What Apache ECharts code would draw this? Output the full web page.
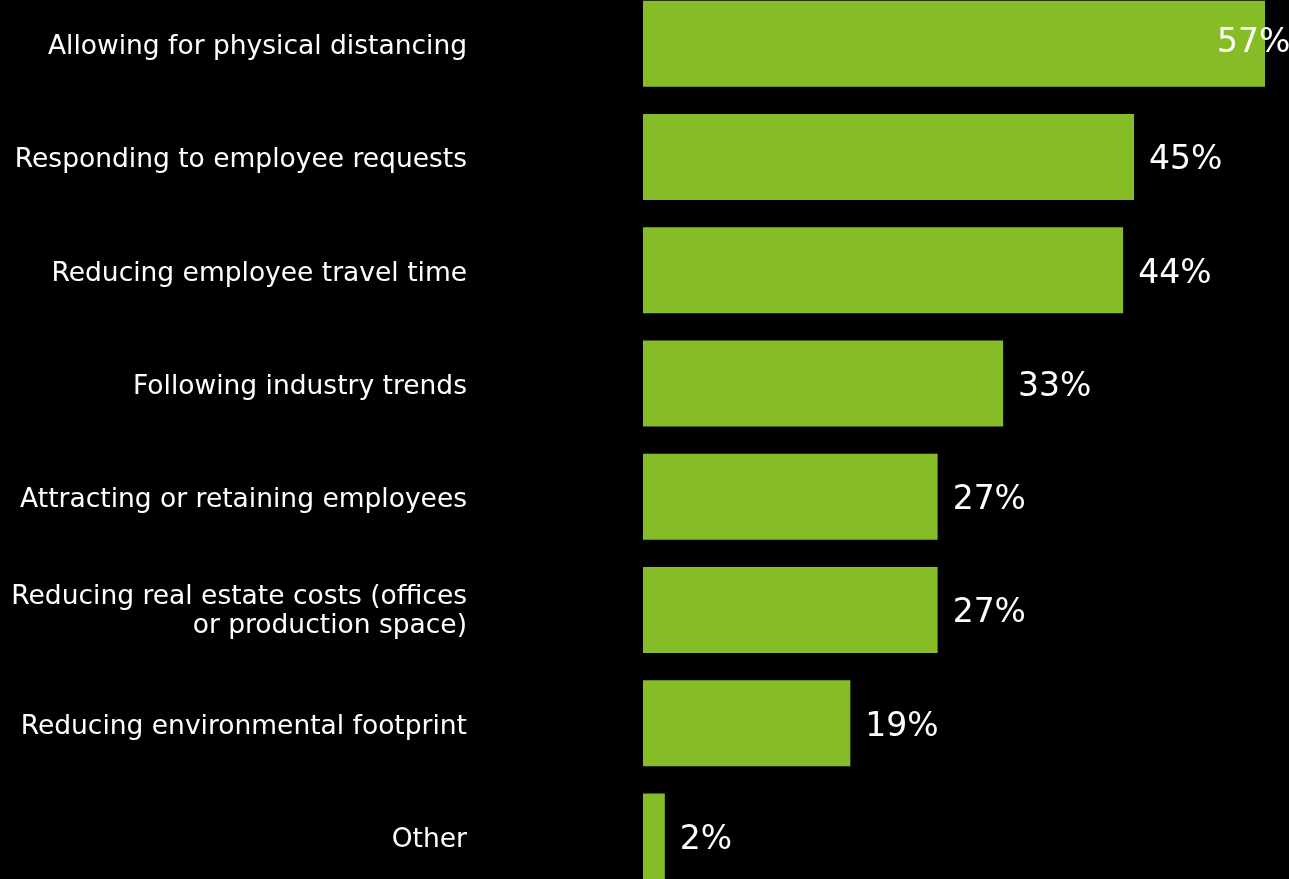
<!DOCTYPE html>
<html>
<head>
<meta charset="utf-8">
<script src="https://cdn.jsdelivr.net/npm/echarts@6/dist/echarts.min.js"></script>
<style>
  html, body { margin: 0; padding: 0; background: #000; overflow: hidden; }
  /* the bands run past the top and bottom edge of the picture */
  #chart { width: 1289px; height: 906px; margin-top: -13px; }
</style>
</head>
<body>
<div id="chart"></div>
<script>
// categories, top to bottom
const categories = [
  "Allowing for physical distancing",
  "Responding to employee requests",
  "Reducing employee travel time",
  "Following industry trends",
  "Attracting or retaining employees",
  "Reducing real estate costs (offices\nor production space)",
  "Reducing environmental footprint",
  "Other"
];
// share of respondents, %
const values = [57, 45, 44, 33, 27, 27, 19, 2];

const chart = echarts.init(document.getElementById("chart"));

const labelFont = {
  color: "#fff",
  fontFamily: "DejaVu Sans",
  fontSize: 26.5,
  lineHeight: 32,
  align: "right",
};

const options = {
  backgroundColor: "#000",
  animation: false,
  grid: {
    top: 0,
    bottom: 0,
    left: 643,
    right: 24,
    containLabel: false,
  },
  xAxis: {
    type: "value",
    min: 0,
    max: 57,
    show: false,
  },
  yAxis: {
    type: "category",
    inverse: true,
    data: categories,
    axisLine: { show: false },
    axisTick: { show: false },
    axisLabel: {
      margin: 176,
      ...labelFont,
      // first line gets a little top padding so the text sits a bit lower
      formatter: (v) =>
        v
          .split("\n")
          .map((line, i) => (i === 0 ? "{a|" + line + "}" : "{b|" + line + "}"))
          .join("\n"),
      rich: {
        a: { ...labelFont, padding: [7, 0, 0, 0] },
        b: { ...labelFont },
      },
    },
  },
  series: [
    {
      type: "bar",
      barWidth: 86,
      itemStyle: { color: "#86bc25" },
      label: {
        show: true,
        position: "right",
        distance: 15,
        color: "#fff",
        fontFamily: "DejaVu Sans",
        fontSize: 33,
        formatter: "{c}%",
        offset: [0, 4],
      },
      // the top label is pushed back so it stays inside the canvas
      data: values.map((v, i) =>
        i === 0 ? { value: v, label: { offset: [-63, 0] } } : v
      ),
    },
  ],
};
chart.setOption(options);
</script>
</body>
</html>
